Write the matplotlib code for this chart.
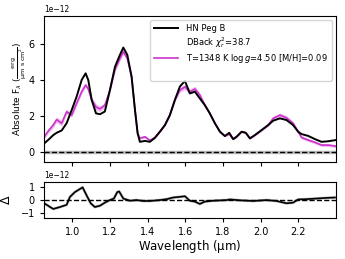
import numpy as np
import matplotlib
matplotlib.use('Agg')
import matplotlib.pyplot as plt

# wavelengths (micron) and fluxes in units of 1e-12
wave = [0.851, 0.875, 0.899, 0.917, 0.944, 0.970, 0.997, 1.023, 1.050, 1.071, 1.085,
        1.103, 1.126, 1.147, 1.173, 1.200, 1.227, 1.253, 1.271, 1.292, 1.315, 1.333,
        1.347, 1.359, 1.386, 1.412, 1.439, 1.465, 1.492, 1.518, 1.545, 1.571, 1.598,
        1.624, 1.651, 1.677, 1.704, 1.730, 1.757, 1.784, 1.810, 1.833, 1.854, 1.872,
        1.899, 1.921, 1.943, 1.969, 2.005, 2.040, 2.066, 2.102, 2.137, 2.172, 2.199,
        2.217, 2.252, 2.288, 2.323, 2.358, 2.400]
obs_flux = [0.48, 0.70, 0.94, 1.07, 1.20, 1.60, 2.33, 3.07, 4.00, 4.37, 4.00,
            2.90, 2.15, 2.10, 2.25, 3.44, 4.74, 5.39, 5.80, 5.40, 4.18, 2.33,
            1.04, 0.57, 0.62, 0.57, 0.80, 1.13, 1.50, 2.05, 2.90, 3.63, 3.95,
            3.26, 3.35, 2.98, 2.60, 2.15, 1.60, 1.13, 0.89, 1.07, 0.72, 0.85,
            1.13, 1.07, 0.76, 0.94, 1.22, 1.50, 1.74, 1.87, 1.78, 1.50, 1.13,
            1.00, 0.90, 0.72, 0.57, 0.60, 0.67]
model_flux = [0.85, 1.20, 1.50, 1.80, 1.60, 2.24, 2.05, 2.70, 3.35, 3.72, 3.50,
              2.90, 2.50, 2.40, 2.60, 3.44, 4.60, 5.20, 5.57, 5.20, 4.18, 2.33,
              1.04, 0.77, 0.85, 0.65, 0.80, 1.13, 1.50, 2.05, 2.90, 3.44, 3.62,
              3.35, 3.50, 3.17, 2.60, 2.15, 1.60, 1.13, 0.89, 1.00, 0.72, 0.85,
              1.13, 1.07, 0.76, 0.94, 1.22, 1.50, 1.87, 2.05, 1.90, 1.60, 1.13,
              0.81, 0.67, 0.54, 0.39, 0.39, 0.33]
model_spread = [0.12, 0.12, 0.15, 0.15, 0.15, 0.15, 0.12, 0.12, 0.12, 0.12, 0.12,
                0.15, 0.18, 0.15, 0.15, 0.12, 0.15, 0.15, 0.15, 0.12, 0.10, 0.08,
                0.06, 0.06, 0.08, 0.06, 0.06, 0.06, 0.06, 0.08, 0.10, 0.12, 0.15,
                0.15, 0.15, 0.12, 0.10, 0.08, 0.06, 0.05, 0.05, 0.05, 0.05, 0.05,
                0.05, 0.05, 0.05, 0.05, 0.06, 0.08, 0.10, 0.12, 0.12, 0.10, 0.08,
                0.08, 0.08, 0.08, 0.08, 0.08, 0.08]

res_wave = [0.851, 0.899, 0.935, 0.970, 0.988, 1.014, 1.055, 1.076, 1.098, 1.120,
            1.147, 1.173, 1.200, 1.221, 1.239, 1.249, 1.271, 1.306, 1.342, 1.377,
            1.412, 1.465, 1.501, 1.536, 1.571, 1.598, 1.624, 1.651, 1.677, 1.704,
            1.748, 1.819, 1.837, 1.890, 1.960, 2.031, 2.084, 2.137, 2.172, 2.199,
            2.243, 2.296, 2.350, 2.394]
residual = [-0.25, -0.69, -0.54, -0.37, 0.25, 0.62, 0.99, 0.37, -0.25, -0.54,
            -0.44, -0.20, 0.00, 0.12, 0.62, 0.67, 0.12, -0.05, 0.00, -0.07,
            -0.07, 0.00, 0.07, 0.20, 0.25, 0.30, -0.05, -0.12, -0.30, -0.12,
            -0.05, 0.00, 0.05, -0.02, -0.07, 0.00, -0.07, -0.25, -0.20, 0.05,
            0.07, 0.12, 0.17, 0.20]

chi2 = 38.7
teff, logg, mh = 1348, 4.50, 0.09

scale = 1e-12
wave = np.array(wave)
obs = np.array(obs_flux) * scale
mod = np.array(model_flux) * scale
spread = np.array(model_spread) * scale
res = np.array(residual) * scale

plt.rcParams['font.family'] = 'DejaVu Sans'
fig = plt.figure(figsize=(3.45, 2.59), dpi=100)
ax = fig.add_axes([0.1275, 0.3745, 0.8465, 0.5637])
axr = fig.add_axes([0.1275, 0.158, 0.8465, 0.139], sharex=ax)

magenta = '#cc33cc'
ax.fill_between(wave, mod - spread, mod + spread, color='#e58ce5', alpha=0.6, lw=0)
ax.plot(wave, obs, color='k', lw=1.4, label='HN Peg B', zorder=3)
ax.plot([], [], ' ', label=r'DBack $\chi^2_r$=%.1f' % chi2)
ax.plot(wave, mod, color=magenta, lw=1.2,
        label=r'T=%d K log$\,g$=%.2f [M/H]=%.2f' % (teff, logg, mh))
ax.plot([], [], ' ', label=' ')
ax.axhline(0, color='gray', lw=2.5, alpha=0.5)
ax.axhline(0, color='k', ls='--', lw=1)
ax.set_ylim(-0.55e-12, 7.55e-12)
ax.set_xlim(0.85, 2.40)
ax.set_ylabel(r'Absolute F$_\lambda$ ($\frac{\rm erg}{\rm \mu m\ s\ cm^2}$)',
              fontsize=6.5)
ax.yaxis.set_label_coords(-0.056, 0.5)
ax.tick_params(labelsize=7, labelbottom=False, length=3)
ax.yaxis.get_offset_text().set_fontsize(5.5)
ax.legend(loc='upper right', fontsize=6.0, handlelength=2.8, handletextpad=1.0,
          borderpad=0.5, labelspacing=0.25)

axr.plot(res_wave, res, color='gray', lw=2, alpha=0.5)
axr.plot(res_wave, res, color='k', lw=1.2)
axr.axhline(0, color='k', ls='--', lw=1)
axr.set_ylim(-1.4e-12, 1.4e-12)
axr.set_yticks([-1e-12, 0, 1e-12])
axr.set_xticks([1.0, 1.2, 1.4, 1.6, 1.8, 2.0, 2.2])
axr.set_ylabel(r'$\Delta$', fontsize=9)
axr.yaxis.set_label_coords(-0.105, 0.5)
axr.set_xlabel(r'Wavelength ($\mathrm{\mu}$m)', fontsize=8.5, labelpad=1)
axr.tick_params(labelsize=7, length=3)
axr.yaxis.get_offset_text().set_fontsize(5.5)

fig.savefig('out.png', dpi=100)
